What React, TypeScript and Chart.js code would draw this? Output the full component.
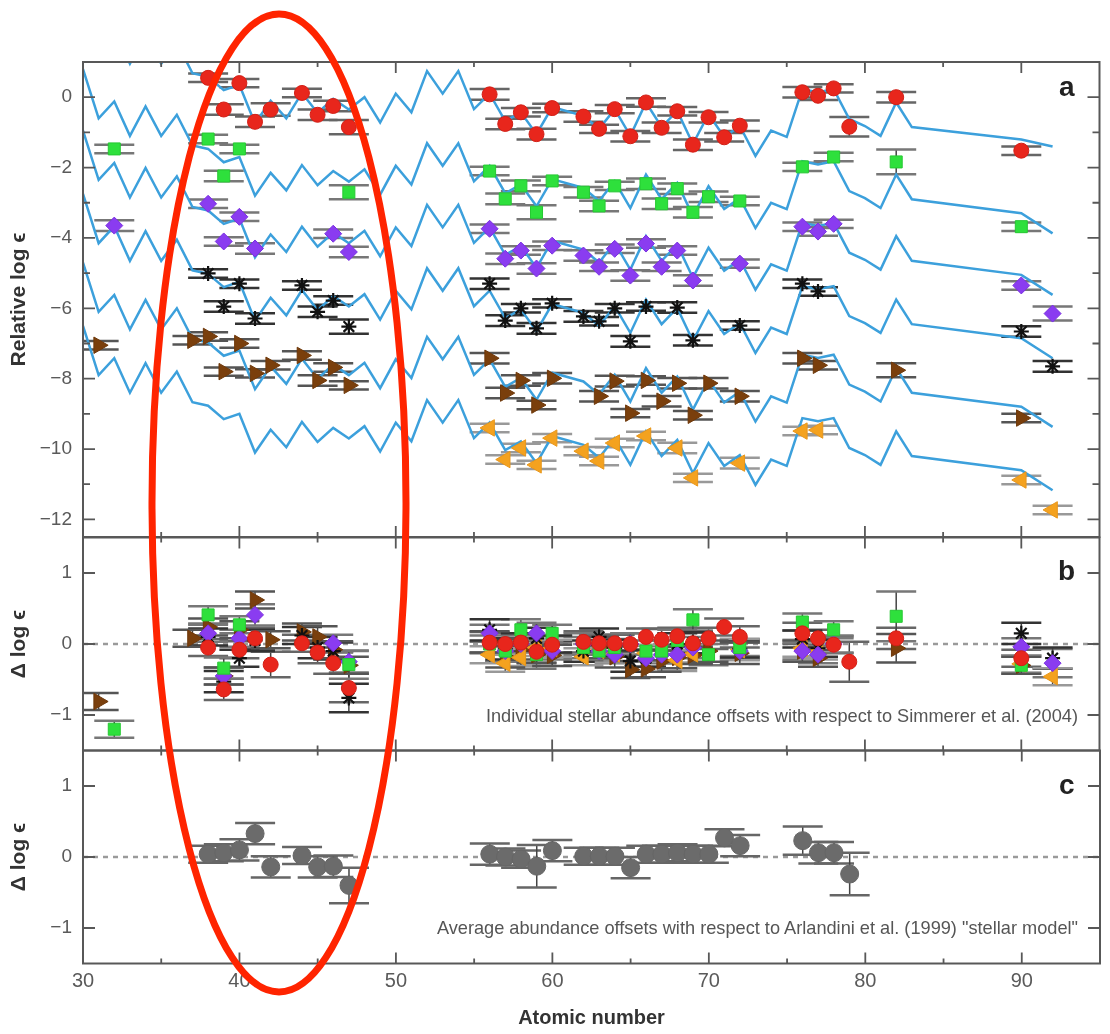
import React, { useEffect, useRef } from "react";
import { Chart, registerables } from "chart.js";

Chart.register(...registerables);

const FONT = "'Liberation Sans', Arimo, Arial, sans-serif";

// ---------- axes ----------
const X_MIN = 30;
const X_MAX = 95;
const X_TICK_LABELS = [30, 40, 50, 60, 70, 80, 90];
const X_MINOR = [35, 45, 55, 65, 75, 85];
const A_MIN = -12.5;
const A_MAX = 1;
const A_TICKS = [0, -2, -4, -6, -8, -10, -12];
const A_MINOR = [-1, -3, -5, -7, -9, -11];
const D_MIN = -1.5;
const D_MAX = 1.5;
const D_TICKS = [-1, 0, 1];

// ---------- panel a: model lines (scaled solar r-process) ----------
const LINE_Z = [30,31,32,33,34,35,36,37,38,39,40,41,42,43,44,45,46,47,48,49,50,51,52,53,54,55,56,57,58,59,60,62,63,64,65,66,67,68,69,70,71,72,73,74,75,76,77,78,79,80,81,82,83,90,92];
const LINE_RED = [2.85,1.45,1.93,0.95,1.79,0.95,1.55,0.68,0.58,0.2,0.35,-0.75,-0.1,-0.6,0.12,-0.45,-0.05,-0.35,0.0,-0.72,0.1,-0.43,0.74,0.1,0.74,-0.34,0.1,-0.68,-0.43,-1.05,-0.28,
  -0.53,-0.9,-0.34,-1.1,-0.15,-0.85,-0.39,-1.33,-0.48,-1.13,-0.82,-1.67,-0.95,-1.13,0.23,0.14,0.23,-0.62,-0.82,-1.1,-0.15,-0.85,-1.2,-1.4];
const LINE_GREEN = [0.8,-0.6,-0.12,-1.1,-0.26,-1.1,-0.5,-1.37,-1.47,-1.85,-1.7,-2.8,-2.15,-2.65,-1.93,-2.5,-2.1,-2.4,-2.05,-2.77,-1.95,-2.48,-1.31,-1.95,-1.31,-2.39,-1.95,-2.73,-2.48,-3.1,-2.33,
  -2.58,-2.95,-2.39,-3.15,-2.2,-2.9,-2.44,-3.38,-2.53,-3.18,-2.87,-3.72,-3.0,-3.18,-1.82,-1.91,-1.82,-2.67,-2.87,-3.15,-2.2,-2.9,-3.3,-3.87];
const LINE_PURPLE = [-0.95,-2.35,-1.87,-2.85,-2.01,-2.85,-2.25,-3.12,-3.22,-3.6,-3.45,-4.55,-3.9,-4.4,-3.68,-4.25,-3.85,-4.15,-3.8,-4.52,-3.7,-4.23,-3.06,-3.7,-3.06,-4.14,-3.7,-4.48,-4.23,-4.85,-4.08,
  -4.33,-4.7,-4.14,-4.9,-3.95,-4.65,-4.19,-5.13,-4.28,-4.93,-4.62,-5.47,-4.75,-4.93,-3.57,-3.66,-3.57,-4.42,-4.62,-4.9,-3.95,-4.65,-5.05,-5.62];
const LINE_BLACK = [-2.75,-4.15,-3.67,-4.65,-3.81,-4.65,-4.05,-4.92,-5.02,-5.4,-5.25,-6.35,-5.7,-6.2,-5.48,-6.05,-5.65,-5.95,-5.6,-6.32,-5.5,-6.03,-4.86,-5.5,-4.86,-5.94,-5.5,-6.28,-6.03,-6.65,-5.88,
  -6.13,-6.5,-5.94,-6.7,-5.75,-6.45,-5.99,-6.93,-6.08,-6.73,-6.42,-7.27,-6.55,-6.73,-5.37,-5.46,-5.37,-6.22,-6.42,-6.7,-5.75,-6.45,-6.85,-7.42];
const LINE_BROWN = [-4.7,-6.1,-5.62,-6.6,-5.76,-6.6,-6.0,-6.87,-6.97,-7.35,-7.2,-8.3,-7.65,-8.15,-7.43,-8.0,-7.6,-7.9,-7.55,-8.27,-7.45,-7.98,-6.81,-7.45,-6.81,-7.89,-7.45,-8.23,-7.98,-8.6,-7.83,
  -8.08,-8.45,-7.89,-8.65,-7.7,-8.4,-7.94,-8.88,-8.03,-8.68,-8.37,-9.22,-8.5,-8.68,-7.32,-7.41,-7.32,-8.17,-8.37,-8.65,-7.7,-8.4,-8.8,-9.37];
const LINE_ORANGE = [-6.5,-7.9,-7.42,-8.4,-7.56,-8.4,-7.8,-8.67,-8.77,-9.15,-9.0,-10.1,-9.45,-9.95,-9.23,-9.8,-9.4,-9.7,-9.35,-10.07,-9.25,-9.78,-8.61,-9.25,-8.61,-9.69,-9.25,-10.03,-9.78,-10.4,-9.63,
  -9.88,-10.25,-9.69,-10.45,-9.5,-10.2,-9.74,-10.68,-9.83,-10.48,-10.17,-11.02,-10.3,-10.48,-9.12,-9.21,-9.12,-9.97,-10.17,-10.45,-9.5,-10.2,-10.6,-11.17];

// ---------- stars: panel a (relative log eps), panel b (offsets), errors ----------
const RED_Z = [38,39,40,41,42,44,45,46,47,56,57,58,59,60,62,63,64,65,66,67,68,69,70,71,72,76,77,78,79,82,90];
const RED_A = [0.55,-0.35,0.4,-0.7,-0.35,0.12,-0.5,-0.25,-0.85,0.08,-0.76,-0.43,-1.05,-0.31,-0.55,-0.9,-0.34,-1.11,-0.15,-0.87,-0.4,-1.35,-0.57,-1.14,-0.81,0.14,0.04,0.25,-0.84,0.0,-1.52];
const RED_B = [-0.05,-0.64,-0.08,0.08,-0.29,0.01,-0.12,-0.27,-0.62,0.02,0.0,0.02,-0.11,-0.01,0.03,0.01,0.01,0.0,0.1,0.06,0.11,0.01,0.08,0.24,0.1,0.15,0.08,-0.01,-0.25,0.08,-0.2];
const RED_ERR = [0.12,0.15,0.12,0.15,0.18,0.12,0.15,0.15,0.2,0.15,0.15,0.12,0.15,0.12,0.15,0.12,0.12,0.15,0.12,0.15,0.12,0.15,0.15,0.12,0.15,0.15,0.12,0.12,0.28,0.15,0.12];

const GREEN_Z = [32,38,39,40,47,56,57,58,59,60,62,63,64,66,67,68,69,70,72,76,78,82,90];
const GREEN_A = [-1.47,-1.19,-2.24,-1.47,-2.7,-2.1,-2.89,-2.52,-3.27,-2.38,-2.7,-3.09,-2.52,-2.46,-3.03,-2.6,-3.27,-2.83,-2.95,-1.98,-1.7,-1.84,-3.68];
const GREEN_B = [-1.2,0.41,-0.34,0.27,-0.29,0.0,-0.1,0.2,-0.15,0.15,-0.05,-0.1,-0.05,-0.1,-0.1,0.05,0.34,-0.15,-0.05,0.31,0.2,0.39,-0.3];
const GREEN_ERR = [0.12,0.12,0.15,0.12,0.2,0.12,0.15,0.15,0.2,0.12,0.15,0.15,0.12,0.15,0.15,0.15,0.15,0.15,0.12,0.12,0.12,0.35,0.12];

const PURPLE_Z = [32,38,39,40,41,46,47,56,57,58,59,60,62,63,64,65,66,67,68,69,72,76,77,78,90,92];
const PURPLE_A = [-3.65,-3.03,-4.1,-3.4,-4.3,-3.88,-4.4,-3.74,-4.59,-4.36,-4.87,-4.22,-4.5,-4.82,-4.31,-5.07,-4.16,-4.82,-4.36,-5.21,-4.73,-3.68,-3.82,-3.6,-5.35,-6.15];
const PURPLE_B = [-1.78,0.15,-0.45,0.08,0.41,0.01,-0.25,0.15,-0.1,0.0,0.15,-0.1,0.0,-0.1,-0.15,0.0,-0.2,-0.15,-0.15,-0.05,-0.1,-0.1,-0.15,0.0,-0.04,-0.27];
const PURPLE_ERR = [0.15,0.12,0.12,0.12,0.15,0.12,0.15,0.12,0.15,0.12,0.15,0.12,0.15,0.12,0.12,0.15,0.12,0.12,0.12,0.15,0.12,0.12,0.12,0.12,0.12,0.2];

const BLACK_Z = [38,39,40,41,44,45,46,47,56,57,58,59,60,62,63,64,65,66,68,69,72,76,77,90,92];
const BLACK_A = [-5.01,-5.95,-5.3,-6.29,-5.35,-6.1,-5.78,-6.52,-5.3,-6.35,-6.0,-6.57,-5.86,-6.23,-6.37,-6.0,-6.94,-5.95,-5.98,-6.91,-6.49,-5.3,-5.52,-6.66,-7.65];
const BLACK_B = [0.1,-0.53,-0.2,0.05,0.12,-0.05,-0.1,-0.76,0.2,-0.07,0.03,0.08,0.0,-0.1,0.1,-0.06,-0.24,-0.2,0.0,0.02,-0.07,0.07,-0.06,0.15,-0.2];
const BLACK_ERR = [0.12,0.15,0.12,0.15,0.12,0.15,0.12,0.2,0.15,0.15,0.12,0.15,0.12,0.15,0.12,0.12,0.15,0.12,0.15,0.15,0.12,0.12,0.12,0.15,0.15];

const BROWN_Z = [31,37,38,39,40,41,42,44,45,46,47,56,57,58,59,60,63,64,65,66,67,68,69,70,72,76,77,82,90];
const BROWN_A = [-7.05,-6.91,-6.8,-7.8,-7.0,-7.85,-7.62,-7.34,-8.05,-7.68,-8.19,-7.42,-8.41,-8.05,-8.75,-7.99,-8.5,-8.07,-8.98,-8.05,-8.64,-8.13,-9.04,-8.13,-8.5,-7.42,-7.62,-7.76,-9.12];
const BROWN_B = [-0.81,0.08,0.24,-0.45,0.2,0.62,0.06,0.17,0.1,-0.08,-0.3,0.03,-0.18,-0.07,-0.15,-0.16,-0.05,-0.18,-0.36,-0.35,-0.24,-0.19,-0.16,-0.1,-0.13,-0.1,-0.2,-0.06,-0.3];
const BROWN_ERR = [0.12,0.12,0.12,0.12,0.12,0.12,0.12,0.12,0.15,0.12,0.12,0.15,0.15,0.15,0.12,0.15,0.15,0.15,0.12,0.12,0.15,0.15,0.12,0.15,0.15,0.15,0.12,0.2,0.12];

const ORANGE_Z = [56,57,58,59,60,62,63,64,66,68,69,72,76,77,90,92];
const ORANGE_A = [-9.4,-10.3,-9.97,-10.45,-9.69,-10.06,-10.34,-9.83,-9.63,-9.97,-10.82,-10.4,-9.49,-9.46,-10.88,-11.73];
const ORANGE_B = [-0.15,-0.27,-0.19,-0.05,-0.06,-0.18,-0.09,-0.14,-0.13,-0.23,-0.14,-0.08,-0.06,-0.1,-0.28,-0.46];
const ORANGE_ERR = [0.12,0.12,0.12,0.12,0.12,0.12,0.12,0.12,0.12,0.15,0.12,0.15,0.12,0.12,0.12,0.12];

// ---------- panel c: average offsets ----------
const AVG_Z = [38,39,40,41,42,44,45,46,47,56,57,58,59,60,62,63,64,65,66,67,68,69,70,71,72,76,77,78,79];
const AVG_D = [0.04,0.06,0.1,0.33,-0.14,0.02,-0.14,-0.13,-0.4,0.04,0.0,-0.03,-0.13,0.09,0.01,0.01,0.01,-0.15,0.04,0.04,0.06,0.04,0.04,0.27,0.16,0.23,0.06,0.06,-0.24];
const AVG_ERR = [0.12,0.12,0.15,0.15,0.15,0.12,0.15,0.15,0.25,0.15,0.12,0.12,0.3,0.15,0.12,0.12,0.12,0.15,0.12,0.12,0.12,0.12,0.12,0.12,0.15,0.2,0.15,0.15,0.3];

// ---------- styles ----------
const BLUE = "#3ca0dc";
const STY: any = {
  red: { style: "circle", r: 7.5, fill: "#e8261c", stroke: "#d21f16", bw: 1, rot: 0, cap: "#666" },
  green: { style: "rect", r: 8.5, fill: "#2ee03c", stroke: "#26c832", bw: 1, rot: 0, cap: "#777" },
  purple: { style: "rectRot", r: 8.5, fill: "#8a3cf0", stroke: "#7a30e0", bw: 1, rot: 0, cap: "#777" },
  black: { style: "star", r: 7.5, fill: "#111", stroke: "#111", bw: 2.2, rot: 0, cap: "#333" },
  brown: { style: "triangle", r: 9.5, fill: "#7a3f0c", stroke: "#6e380a", bw: 1, rot: 90, cap: "#555" },
  orange: { style: "triangle", r: 9.5, fill: "#f4a21f", stroke: "#e8961a", bw: 1, rot: -90, cap: "#999" },
  avg: { style: "circle", r: 9, fill: "#6b6b6b", stroke: "#666", bw: 1, rot: 0, cap: "#666" },
};

const fmt = (v: number) => (v < 0 ? "\u2212" + Math.abs(v) : String(v));

function starSet(zs: number[], ys: number[], errs: number[], st: any) {
  return {
    data: zs.map((z, i) => ({ x: z, y: ys[i] })),
    errors: errs,
    capColor: st.cap,
    showLine: false,
    pointStyle: st.style,
    pointRadius: st.r,
    pointRotation: st.rot,
    pointBackgroundColor: st.fill,
    pointBorderColor: st.stroke,
    pointBorderWidth: st.bw,
  };
}

function lineSet(ys: number[]) {
  return {
    data: LINE_Z.map((z, i) => ({ x: z, y: ys[i] })),
    showLine: true,
    pointRadius: 0,
    borderColor: BLUE,
    borderWidth: 2.5,
    fill: false,
  };
}

function makeDeco(yMajor: number[], yMinor: number[], zeroLine: boolean) {
  return {
    id: "deco",
    beforeDatasetsDraw(chart: any) {
      const { ctx, chartArea: ca, scales } = chart;
      const xs = scales.x;
      const ys = scales.y;
      ctx.save();
      ctx.beginPath();
      ctx.rect(ca.left, ca.top, ca.right - ca.left, ca.bottom - ca.top);
      ctx.clip();
      if (zeroLine) {
        const py = ys.getPixelForValue(0);
        ctx.setLineDash([5, 5]);
        ctx.strokeStyle = "#9a9a9a";
        ctx.lineWidth = 2.5;
        ctx.beginPath();
        ctx.moveTo(ca.left, py);
        ctx.lineTo(ca.right, py);
        ctx.stroke();
        ctx.setLineDash([]);
      }
      chart.data.datasets.forEach((ds: any) => {
        if (!ds.errors) return;
        ds.data.forEach((p: any, j: number) => {
          const e = ds.errors[j];
          const px = xs.getPixelForValue(p.x);
          const yt = ys.getPixelForValue(p.y + e);
          const yb = ys.getPixelForValue(p.y - e);
          ctx.strokeStyle = "#444";
          ctx.lineWidth = 1.5;
          ctx.beginPath();
          ctx.moveTo(px, yt);
          ctx.lineTo(px, yb);
          ctx.stroke();
          ctx.strokeStyle = ds.capColor || "#777";
          ctx.lineWidth = 2.5;
          ctx.beginPath();
          ctx.moveTo(px - 20, yt);
          ctx.lineTo(px + 20, yt);
          ctx.moveTo(px - 20, yb);
          ctx.lineTo(px + 20, yb);
          ctx.stroke();
        });
      });
      ctx.restore();
    },
    afterDraw(chart: any) {
      const { ctx, chartArea: ca, scales } = chart;
      const xs = scales.x;
      const ys = scales.y;
      ctx.save();
      ctx.strokeStyle = "#585858";
      ctx.lineWidth = 2;
      ctx.strokeRect(ca.left, ca.top, ca.right - ca.left, ca.bottom - ca.top);
      ctx.lineWidth = 1.8;
      ctx.beginPath();
      yMajor.forEach((v) => {
        const py = ys.getPixelForValue(v);
        ctx.moveTo(ca.left, py); ctx.lineTo(ca.left + 12, py);
        ctx.moveTo(ca.right, py); ctx.lineTo(ca.right - 12, py);
      });
      yMinor.forEach((v) => {
        const py = ys.getPixelForValue(v);
        ctx.moveTo(ca.left, py); ctx.lineTo(ca.left + 7, py);
        ctx.moveTo(ca.right, py); ctx.lineTo(ca.right - 7, py);
      });
      X_TICK_LABELS.forEach((v) => {
        const px = xs.getPixelForValue(v);
        ctx.moveTo(px, ca.top); ctx.lineTo(px, ca.top + 11);
        ctx.moveTo(px, ca.bottom); ctx.lineTo(px, ca.bottom - 11);
      });
      X_MINOR.forEach((v) => {
        const px = xs.getPixelForValue(v);
        ctx.moveTo(px, ca.top); ctx.lineTo(px, ca.top + 5);
        ctx.moveTo(px, ca.bottom); ctx.lineTo(px, ca.bottom - 5);
      });
      ctx.stroke();
      ctx.restore();
    },
  };
}

function yScale(min: number, max: number, ticks: number[], title: string) {
  return {
    type: "linear",
    min,
    max,
    afterBuildTicks: (s: any) => {
      s.ticks = ticks.map((v) => ({ value: v }));
    },
    afterFit: (s: any) => {
      s.width = 83;
      s.paddingTop = 0;
      s.paddingBottom = 0;
    },
    grid: { display: false, drawTicks: false },
    border: { display: false },
    ticks: {
      autoSkip: false,
      padding: 11,
      color: "#5a5a5a",
      font: { family: FONT, size: 19 },
      callback: (v: any) => fmt(Number(v)),
    },
    title: {
      display: true,
      text: title,
      color: "#333",
      font: { family: FONT, size: 21, weight: "bold" },
      padding: { top: 7, bottom: 0 },
    },
  };
}

function hiddenX() {
  return {
    type: "linear",
    min: X_MIN,
    max: X_MAX,
    display: false,
    afterFit: (s: any) => {
      s.height = 0;
      s.paddingLeft = 0;
      s.paddingRight = 0;
    },
  };
}

function baseOptions(padding: any, scales: any) {
  return {
    responsive: false,
    animation: false,
    devicePixelRatio: 1,
    events: [],
    layout: { padding },
    plugins: { legend: { display: false }, tooltip: { enabled: false } },
    scales,
  };
}

function configA(): any {
  return {
    type: "scatter",
    data: {
      datasets: [
        starSet(RED_Z, RED_A, RED_ERR, STY.red),
        starSet(GREEN_Z, GREEN_A, GREEN_ERR, STY.green),
        starSet(PURPLE_Z, PURPLE_A, PURPLE_ERR, STY.purple),
        starSet(BLACK_Z, BLACK_A, BLACK_ERR, STY.black),
        starSet(BROWN_Z, BROWN_A, BROWN_ERR, STY.brown),
        starSet(ORANGE_Z, ORANGE_A, ORANGE_ERR, STY.orange),
        lineSet(LINE_RED),
        lineSet(LINE_GREEN),
        lineSet(LINE_PURPLE),
        lineSet(LINE_BLACK),
        lineSet(LINE_BROWN),
        lineSet(LINE_ORANGE),
      ],
    },
    options: baseOptions({ top: 62, right: 2, bottom: 12, left: 0 }, {
      x: hiddenX(),
      y: yScale(A_MIN, A_MAX, A_TICKS, "Relative log \u03f5"),
    }),
    plugins: [makeDeco(A_TICKS, A_MINOR, false)],
  };
}

function configB(): any {
  return {
    type: "scatter",
    data: {
      datasets: [
        starSet(RED_Z, RED_B, RED_ERR, STY.red),
        starSet(GREEN_Z, GREEN_B, GREEN_ERR, STY.green),
        starSet(PURPLE_Z, PURPLE_B, PURPLE_ERR, STY.purple),
        starSet(BLACK_Z, BLACK_B, BLACK_ERR, STY.black),
        starSet(ORANGE_Z, ORANGE_B, ORANGE_ERR, STY.orange),
        starSet(BROWN_Z, BROWN_B, BROWN_ERR, STY.brown),
      ],
    },
    options: baseOptions({ top: 12.5, right: 2, bottom: 12.5, left: 0 }, {
      x: hiddenX(),
      y: yScale(D_MIN, D_MAX, D_TICKS, "\u0394 log \u03f5"),
    }),
    plugins: [makeDeco(D_TICKS, [], true)],
  };
}

function configC(): any {
  return {
    type: "scatter",
    data: {
      datasets: [starSet(AVG_Z, AVG_D, AVG_ERR, STY.avg)],
    },
    options: baseOptions({ top: 12.5, right: 2, bottom: 0, left: 0 }, {
      x: {
        type: "linear",
        min: X_MIN,
        max: X_MAX,
        position: "bottom",
        afterBuildTicks: (s: any) => {
          s.ticks = X_TICK_LABELS.map((v) => ({ value: v }));
        },
        afterFit: (s: any) => {
          s.height = 70.5;
          s.paddingLeft = 0;
          s.paddingRight = 0;
        },
        grid: { display: false, drawTicks: false },
        border: { display: false },
        ticks: { autoSkip: false, maxRotation: 0, padding: 6, color: "#5a5a5a", font: { family: FONT, size: 20 } },
        title: {
          display: true,
          text: "Atomic number",
          color: "#333",
          font: { family: FONT, size: 20, weight: "bold" },
          padding: { top: 0, bottom: 4 },
        },
      },
      y: yScale(D_MIN, D_MAX, D_TICKS, "\u0394 log \u03f5"),
    }),
    plugins: [makeDeco(D_TICKS, [], true)],
  };
}

export default function App() {
  const refA = useRef<HTMLCanvasElement>(null);
  const refB = useRef<HTMLCanvasElement>(null);
  const refC = useRef<HTMLCanvasElement>(null);

  useEffect(() => {
    const charts = [
      new Chart(refA.current as HTMLCanvasElement, configA()),
      new Chart(refB.current as HTMLCanvasElement, configB()),
      new Chart(refC.current as HTMLCanvasElement, configC()),
    ];
    return () => charts.forEach((c) => c.destroy());
  }, []);

  const letter: any = { position: "absolute", fontFamily: FONT, fontWeight: "bold", fontSize: 28, color: "#222", lineHeight: "28px" };
  const note: any = { position: "absolute", right: 32, fontFamily: FONT, fontSize: 18.2, color: "#555", lineHeight: "20px", whiteSpace: "nowrap" };

  return (
    <div style={{ position: "absolute", left: 0, top: 0, width: 1110, height: 1034, background: "#fff", overflow: "hidden" }}>
      <canvas ref={refA} width={1110} height={549} style={{ position: "absolute", left: 0, top: 0 }} />
      <canvas ref={refB} width={1110} height={238} style={{ position: "absolute", left: 0, top: 525 }} />
      <canvas ref={refC} width={1110} height={296} style={{ position: "absolute", left: 0, top: 738 }} />
      <div style={{ ...letter, left: 1059, top: 73 }}>a</div>
      <div style={{ ...letter, left: 1058, top: 557 }}>b</div>
      <div style={{ ...letter, left: 1059, top: 771 }}>c</div>
      <div style={{ ...note, top: 706 }}>Individual stellar abundance offsets with respect to Simmerer et al. (2004)</div>
      <div style={{ ...note, top: 918 }}>Average abundance offsets with respect to Arlandini et al. (1999) "stellar model"</div>
      <svg width={1110} height={1034} style={{ position: "absolute", left: 0, top: 0, pointerEvents: "none" }}>
        <ellipse cx={279} cy={503} rx={127} ry={489} fill="none" stroke="#ff2400" strokeWidth={7} />
      </svg>
    </div>
  );
}
